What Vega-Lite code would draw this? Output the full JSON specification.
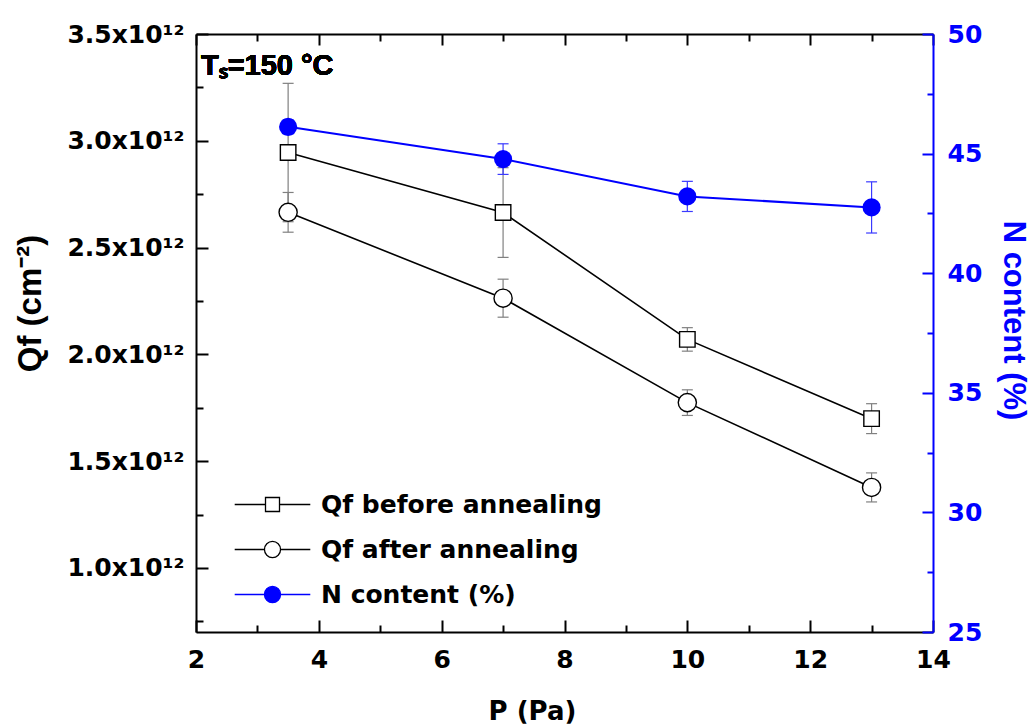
{
  "$schema": "https://vega.github.io/schema/vega-lite/v6.json",
  "width": 737,
  "height": 598,
  "autosize": {"type": "none"},
  "padding": {"left": 196, "top": 34, "right": 98, "bottom": 95},
  "background": "white",
  "config": {"view": {"stroke": null}},
  "datasets": {
    "measurements": [
      {"P": 3.5, "series": "Qf before annealing", "value": 2.945e12, "lo": 2.621e12, "hi": 3.269e12},
      {"P": 7, "series": "Qf before annealing", "value": 2.664e12, "lo": 2.454e12, "hi": 2.874e12},
      {"P": 10, "series": "Qf before annealing", "value": 2.070e12, "lo": 2.015e12, "hi": 2.125e12},
      {"P": 13, "series": "Qf before annealing", "value": 1.699e12, "lo": 1.629e12, "hi": 1.769e12},
      {"P": 3.5, "series": "Qf after annealing", "value": 2.665e12, "lo": 2.572e12, "hi": 2.758e12},
      {"P": 7, "series": "Qf after annealing", "value": 2.263e12, "lo": 2.174e12, "hi": 2.352e12},
      {"P": 10, "series": "Qf after annealing", "value": 1.774e12, "lo": 1.714e12, "hi": 1.834e12},
      {"P": 13, "series": "Qf after annealing", "value": 1.377e12, "lo": 1.309e12, "hi": 1.445e12},
      {"P": 3.5, "series": "N content (%)", "value": 46.12, "lo": 45.82, "hi": 46.42},
      {"P": 7, "series": "N content (%)", "value": 44.77, "lo": 44.13, "hi": 45.41},
      {"P": 10, "series": "N content (%)", "value": 43.21, "lo": 42.58, "hi": 43.84},
      {"P": 13, "series": "N content (%)", "value": 42.75, "lo": 41.68, "hi": 43.82}
    ]
  },
  "data": {"name": "measurements"},
  "layer": [
    {
      "transform": [{"filter": "datum.series !== 'N content (%)'"}],
      "mark": {"type": "rule", "color": "#808080", "strokeWidth": 1.2},
      "encoding": {
        "x": {
          "field": "P", "type": "quantitative",
          "scale": {"domain": [2, 14], "nice": false, "zero": false},
          "axis": {
            "orient": "bottom",
            "values": [2, 3, 4, 5, 6, 7, 8, 9, 10, 11, 12, 13, 14],
            "labelExpr": "datum.value % 2 === 0 ? datum.label : ''",
            "tickSize": {"condition": {"test": "datum.value % 2 === 0", "value": -12}, "value": -7},
            "tickColor": "black", "tickWidth": 2,
            "domainColor": "black", "domainWidth": 2,
            "grid": false,
            "labelFont": "DejaVu Sans", "labelFontSize": 25, "labelFontWeight": "bold", "labelColor": "black",
            "labelPadding": 27, "labelFlush": false,
            "title": "P (Pa)",
            "titleFont": "DejaVu Sans", "titleFontSize": 26, "titleFontWeight": "bold", "titleColor": "black",
            "titleX": 336, "titleY": 79, "titleBaseline": "middle", "titleAlign": "center"
          }
        },
        "y": {
          "field": "lo", "type": "quantitative",
          "scale": {"domain": [7e11, 3.5e12], "nice": false, "zero": false},
          "axis": {
            "orient": "left",
            "values": [7.5e11, 1e12, 1.25e12, 1.5e12, 1.75e12, 2e12, 2.25e12, 2.5e12, 2.75e12, 3e12, 3.25e12, 3.5e12],
            "labelExpr": "datum.value % 5e11 === 0 ? format(datum.value / 1e12, '.1f') + 'x10¹²' : ''",
            "tickSize": {"condition": {"test": "datum.value % 5e11 === 0", "value": -12}, "value": -7},
            "tickColor": "black", "tickWidth": 2,
            "domainColor": "black", "domainWidth": 2,
            "grid": false,
            "labelFont": "DejaVu Sans", "labelFontSize": 25, "labelFontWeight": "bold", "labelColor": "black",
            "labelPadding": 24, "labelFlush": false,
            "title": "Qf (cm⁻²)",
            "titleFont": "Liberation Sans", "titleFontSize": 33, "titleFontWeight": "bold", "titleColor": "black",
            "titleAngle": -90, "titleX": -166, "titleY": 269, "titleBaseline": "middle", "titleAlign": "center"
          }
        },
        "y2": {"field": "hi"}
      }
    },
    {
      "transform": [{"filter": "datum.series !== 'N content (%)'"}],
      "mark": {"type": "point", "shape": "stroke", "size": 121, "stroke": "#808080", "strokeWidth": 1.2, "opacity": 1},
      "encoding": {
        "x": {"field": "P", "type": "quantitative", "axis": null},
        "y": {"field": "lo", "type": "quantitative", "scale": {"domain": [7e11, 3.5e12], "nice": false, "zero": false}, "axis": null}
      }
    },
    {
      "transform": [{"filter": "datum.series !== 'N content (%)'"}],
      "mark": {"type": "point", "shape": "stroke", "size": 121, "stroke": "#808080", "strokeWidth": 1.2, "opacity": 1},
      "encoding": {
        "x": {"field": "P", "type": "quantitative", "axis": null},
        "y": {"field": "hi", "type": "quantitative", "scale": {"domain": [7e11, 3.5e12], "nice": false, "zero": false}, "axis": null}
      }
    },
    {
      "transform": [{"filter": "datum.series !== 'N content (%)'"}],
      "mark": {"type": "line", "color": "black", "strokeWidth": 1.6},
      "encoding": {
        "x": {
          "field": "P", "type": "quantitative",
          "axis": {
            "orient": "top",
            "values": [2, 3, 4, 5, 6, 7, 8, 9, 10, 11, 12, 13, 14],
            "labels": false,
            "tickSize": {"condition": {"test": "datum.value % 2 === 0", "value": -11}, "value": -7},
            "tickColor": "black", "tickWidth": 2,
            "domainColor": "black", "domainWidth": 2,
            "grid": false,
            "title": null
          }
        },
        "y": {"field": "value", "type": "quantitative", "scale": {"domain": [7e11, 3.5e12], "nice": false, "zero": false}, "axis": null},
        "detail": {"field": "series"}
      }
    },
    {
      "transform": [{"filter": "datum.series === 'Qf before annealing'"}],
      "mark": {"type": "point", "shape": "square", "size": 240, "filled": true, "fill": "white", "stroke": "black", "strokeWidth": 1.4, "opacity": 1},
      "encoding": {
        "x": {"field": "P", "type": "quantitative", "axis": null},
        "y": {"field": "value", "type": "quantitative", "scale": {"domain": [7e11, 3.5e12], "nice": false, "zero": false}, "axis": null}
      }
    },
    {
      "transform": [{"filter": "datum.series === 'Qf after annealing'"}],
      "mark": {"type": "point", "shape": "circle", "size": 330, "filled": true, "fill": "white", "stroke": "black", "strokeWidth": 1.4, "opacity": 1},
      "encoding": {
        "x": {"field": "P", "type": "quantitative", "axis": null},
        "y": {"field": "value", "type": "quantitative", "scale": {"domain": [7e11, 3.5e12], "nice": false, "zero": false}, "axis": null}
      }
    },
    {
      "mark": {"type": "text", "align": "left", "baseline": "alphabetic", "font": "Liberation Sans", "fontSize": 29, "fontWeight": "bold", "color": "black"},
      "encoding": {
        "x": {"datum": 2.08, "type": "quantitative", "axis": null},
        "y": {"datum": 3.308e12, "type": "quantitative", "scale": {"domain": [7e11, 3.5e12], "nice": false, "zero": false}, "axis": null},
        "text": {"value": "Tₛ=150 °C"}
      }
    },
    {
      "transform": [{"filter": "datum.series === 'legend key only'"}],
      "mark": {"type": "point", "filled": false, "strokeWidth": 1.3, "opacity": 1},
      "encoding": {
        "x": {"field": "P", "type": "quantitative", "axis": null},
        "y": {"field": "value", "type": "quantitative", "scale": {"domain": [7e11, 3.5e12], "nice": false, "zero": false}, "axis": null},
        "shape": {
          "field": "series", "type": "nominal",
          "scale": {
            "domain": ["Qf before annealing", "Qf after annealing", "N content (%)"],
            "range": [
              "M-5.4,0H-1M1,0H5.4M-1,-1H1V1H-1Z",
              "M-5.4,0H-1.15M1.15,0H5.4M-1.15,0A1.15,1.15 0 1,0 1.15,0A1.15,1.15 0 1,0 -1.15,0Z",
              "M-5.4,0H-1.15M1.15,0H5.4M-1.15,0A1.15,1.15 0 1,0 1.15,0A1.15,1.15 0 1,0 -1.15,0Z"
            ]
          },
          "legend": {
            "title": null,
            "orient": "none", "legendX": 64, "legendY": 458,
            "padding": 0,
            "labelFont": "DejaVu Sans", "labelFontSize": 25, "labelFontWeight": "bold", "labelColor": "black",
            "labelOffset": 36, "labelLimit": 600,
            "rowPadding": 19,
            "symbolSize": 196, "symbolStrokeWidth": 1.3
          }
        },
        "fill": {
          "field": "series", "type": "nominal",
          "scale": {"domain": ["Qf before annealing", "Qf after annealing", "N content (%)"], "range": ["white", "white", "#0000ff"]},
          "legend": {
            "title": null,
            "orient": "none", "legendX": 64, "legendY": 458,
            "padding": 0,
            "labelFont": "DejaVu Sans", "labelFontSize": 25, "labelFontWeight": "bold", "labelColor": "black",
            "labelOffset": 36, "labelLimit": 600,
            "rowPadding": 19,
            "symbolSize": 196, "symbolStrokeWidth": 1.3
          }
        },
        "stroke": {
          "field": "series", "type": "nominal",
          "scale": {"domain": ["Qf before annealing", "Qf after annealing", "N content (%)"], "range": ["black", "black", "#0000ff"]},
          "legend": {
            "title": null,
            "orient": "none", "legendX": 64, "legendY": 458,
            "padding": 0,
            "labelFont": "DejaVu Sans", "labelFontSize": 25, "labelFontWeight": "bold", "labelColor": "black",
            "labelOffset": 36, "labelLimit": 600,
            "rowPadding": 19,
            "symbolSize": 196, "symbolStrokeWidth": 1.3
          }
        }
      }
    },
    {
      "transform": [{"filter": "datum.series === 'N content (%)'"}],
      "mark": {"type": "rule", "color": "#3a3aff", "strokeWidth": 1.2},
      "encoding": {
        "x": {"field": "P", "type": "quantitative", "axis": null},
        "y": {
          "field": "lo", "type": "quantitative",
          "scale": {"domain": [25, 50], "nice": false, "zero": false},
          "axis": {
            "orient": "right",
            "values": [25, 27.5, 30, 32.5, 35, 37.5, 40, 42.5, 45, 47.5, 50],
            "labelExpr": "datum.value % 5 === 0 ? datum.label : ''",
            "tickSize": {"condition": {"test": "datum.value % 5 === 0", "value": -11}, "value": -6},
            "tickColor": "#0000ff", "tickWidth": 2,
            "domainColor": "#0000ff", "domainWidth": 2,
            "grid": false,
            "labelFont": "DejaVu Sans", "labelFontSize": 25, "labelFontWeight": "bold", "labelColor": "#0000ff",
            "labelPadding": 25, "labelFlush": false,
            "title": "N content (%)",
            "titleFont": "Liberation Sans", "titleFontSize": 31, "titleFontWeight": "bold", "titleColor": "#0000ff",
            "titleAngle": 90, "titleX": 79, "titleY": 286, "titleBaseline": "middle", "titleAlign": "center"
          }
        },
        "y2": {"field": "hi"}
      }
    },
    {
      "transform": [{"filter": "datum.series === 'N content (%)'"}],
      "mark": {"type": "point", "shape": "stroke", "size": 121, "stroke": "#3a3aff", "strokeWidth": 1.2, "opacity": 1},
      "encoding": {
        "x": {"field": "P", "type": "quantitative", "axis": null},
        "y": {"field": "lo", "type": "quantitative", "scale": {"domain": [25, 50], "nice": false, "zero": false}, "axis": null}
      }
    },
    {
      "transform": [{"filter": "datum.series === 'N content (%)'"}],
      "mark": {"type": "point", "shape": "stroke", "size": 121, "stroke": "#3a3aff", "strokeWidth": 1.2, "opacity": 1},
      "encoding": {
        "x": {"field": "P", "type": "quantitative", "axis": null},
        "y": {"field": "hi", "type": "quantitative", "scale": {"domain": [25, 50], "nice": false, "zero": false}, "axis": null}
      }
    },
    {
      "transform": [{"filter": "datum.series === 'N content (%)'"}],
      "mark": {"type": "line", "color": "#0000ff", "strokeWidth": 2},
      "encoding": {
        "x": {"field": "P", "type": "quantitative", "axis": null},
        "y": {"field": "value", "type": "quantitative", "scale": {"domain": [25, 50], "nice": false, "zero": false}, "axis": null}
      }
    },
    {
      "transform": [{"filter": "datum.series === 'N content (%)'"}],
      "mark": {"type": "point", "shape": "circle", "filled": true, "color": "#0000ff", "size": 330, "opacity": 1},
      "encoding": {
        "x": {"field": "P", "type": "quantitative", "axis": null},
        "y": {"field": "value", "type": "quantitative", "scale": {"domain": [25, 50], "nice": false, "zero": false}, "axis": null}
      }
    }
  ],
  "resolve": {"scale": {"y": "independent"}}
}
